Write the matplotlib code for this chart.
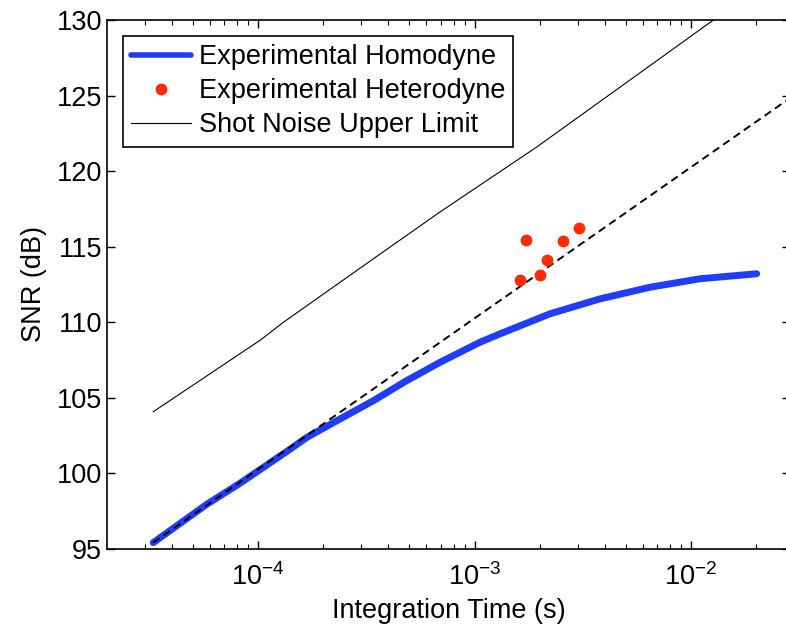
import numpy as np
import matplotlib
matplotlib.use("Agg")
import matplotlib.pyplot as plt

plt.rcParams['font.family'] = ['Liberation Sans', 'DejaVu Sans']
plt.rcParams['mathtext.fontset'] = 'custom'
plt.rcParams['mathtext.rm'] = 'Liberation Sans'
plt.rcParams['mathtext.default'] = 'regular'

# Experimental homodyne
homo_t = [3.28e-5, 5.79e-5, 8.26e-5, 1.177e-4, 1.406e-4, 1.679e-4, 2.39e-4,
          3.41e-4, 4.86e-4, 6.93e-4, 1.06e-3, 1.31e-3, 2.23e-3, 3.80e-3,
          6.47e-3, 1.10e-2, 2.01e-2]
homo_snr = [95.42, 97.95, 99.35, 100.85, 101.60, 102.38, 103.60,
            104.81, 106.14, 107.35, 108.68, 109.23, 110.56, 111.55,
            112.32, 112.88, 113.21]

# Experimental heterodyne points
het_t = [1.62e-3, 1.73e-3, 2.00e-3, 2.17e-3, 2.55e-3, 3.05e-3]
het_snr = [112.81, 115.46, 113.10, 114.14, 115.37, 116.23]

# Shot noise upper limit
shot_t = [3.28e-5, 1.02e-4, 1.31e-4, 3.41e-4, 6.93e-4, 1.94e-3, 1.27e-2, 2.5e-2]
shot_snr = [104.08, 108.80, 110.00, 114.20, 117.30, 121.60, 130.00, 132.95]

# Dashed reference line (10 dB/decade)
ref_t = [3.28e-5, 2.87e-2]
ref_snr = [95.42, 124.84]

fig = plt.figure(figsize=(7.86, 6.25), dpi=100)
ax = fig.add_axes([107/786, 76/625, 683/786, 529/625])

ax.plot(shot_t, shot_snr, color='black', lw=0.8, label='Shot Noise Upper Limit', zorder=2)
ax.plot(ref_t, ref_snr, color='black', lw=1.4, ls=(0, (4, 2.5)), zorder=4)
ax.plot(homo_t, homo_snr, color='#1f3cff', lw=5, solid_capstyle='round',
        solid_joinstyle='round', label='Experimental Homodyne', zorder=3)
ax.plot(het_t, het_snr, ls='none', marker='o', ms=8.5, color='#ff2a00',
        markeredgewidth=0, label='Experimental Heterodyne', zorder=5)

ax.set_xscale('log')
ax.set_xlim(10**-4.6975, 10**-1.5427)
ax.set_ylim(95, 130)
ax.set_yticks(np.arange(95, 131, 5))

ax.tick_params(which='both', direction='in', top=True, right=True, labelsize=19.5)
ax.tick_params(axis='x', which='major', pad=10)
ax.tick_params(which='major', length=6, width=1)
ax.tick_params(which='minor', length=3.5, width=0.8)
for s in ax.spines.values():
    s.set_linewidth(1.2)

ax.set_xlabel('Integration Time (s)', fontsize=19.5, labelpad=5)
ax.set_ylabel('SNR (dB)', fontsize=19.5, labelpad=7)

handles, labels = ax.get_legend_handles_labels()
order = [1, 2, 0]
leg = ax.legend([handles[i] for i in order], [labels[i] for i in order],
                loc='upper left', bbox_to_anchor=(0.0234, 0.9697), borderaxespad=0,
                fontsize=19.5, fancybox=False, edgecolor='black', framealpha=1,
                handlelength=2.2, handletextpad=0.3, labelspacing=0.3,
                borderpad=0.3, numpoints=1)
leg.get_frame().set_linewidth(1.2)
leg.legend_handles[0].set_linewidth(4)

fig.savefig('out.png', dpi=100)
